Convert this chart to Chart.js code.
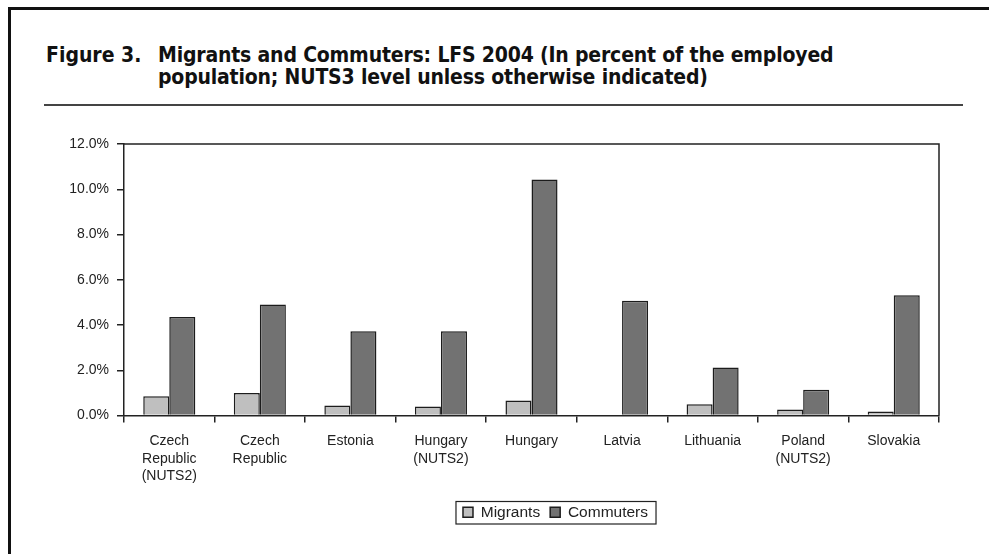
<!DOCTYPE html>
<html>
<head>
<meta charset="utf-8">
<script src="https://cdn.jsdelivr.net/npm/chart.js@4.4.1/dist/chart.umd.min.js"></script>
<style>
    html, body { margin: 0; padding: 0; background: #fff; }
    body { width: 989px; height: 554px; position: relative; overflow: hidden; }
    #frame { position: absolute; left: 8px; top: 7px; width: 990px; height: 560px;
             border-left: 3px solid #111; border-top: 3px solid #111; }
    #title { position: absolute; left: 46px; top: 44px; color: #111;
             font-family: "Liberation Sans Narrow", "DejaVu Sans Condensed", sans-serif;
             font-weight: bold; font-size: 21px; line-height: 22px; white-space: nowrap; }
    #title .num { position: absolute; left: 0; top: 0; }
    #title .txt { position: absolute; left: 112px; top: 0; letter-spacing: -0.18px; }
    #rule { position: absolute; left: 44px; top: 104px; width: 919px; height: 2px; background: #444; }
    #wrap { position: absolute; left: 0; top: 0; width: 989px; height: 554px; }
</style>
</head>
<body>
<div id="frame"></div>
<div id="title">
    <span class="num">Figure 3.</span>
    <span class="txt">Migrants and Commuters: LFS 2004 (In percent of the employed<br>population; NUTS3 level unless otherwise indicated)</span>
</div>
<div id="rule"></div>
<div id="wrap"><canvas id="chart"></canvas></div>

<script>
// ===============================
// DATA
// ===============================
const categories = [
    ["Czech", "Republic", "(NUTS2)"],
    ["Czech", "Republic"],
    ["Estonia"],
    ["Hungary", "(NUTS2)"],
    ["Hungary"],
    ["Latvia"],
    ["Lithuania"],
    ["Poland", "(NUTS2)"],
    ["Slovakia"]
];
const migrants = [0.85, 1.0, 0.44, 0.40, 0.66, 0, 0.50, 0.27, 0.18];
const commuters = [4.35, 4.91, 3.72, 3.72, 10.43, 5.07, 2.12, 1.14, 5.32];
const yTicks = [0, 2, 4, 6, 8, 10, 12];

const AXIS = "#222";
const FONT = "'Liberation Sans', Arial, sans-serif";

// legend sits right of centre in the original, shift its box
const legendShift = {
    id: "legendShift",
    afterLayout(chart) {
        const lg = chart.legend;
        lg.left = 172;
        lg.width = lg.right - lg.left;
    }
};

// box around the plot and around the legend
const framePlugin = {
    id: "framePlugin",
    afterDraw(chart) {
        const ctx = chart.ctx;
        const a = chart.chartArea;
        ctx.save();
        ctx.strokeStyle = AXIS;
        ctx.lineWidth = 1.5;
        ctx.beginPath();
        ctx.moveTo(a.left, a.top);
        ctx.lineTo(a.right, a.top);
        ctx.lineTo(a.right, a.bottom);
        ctx.stroke();

        const boxes = chart.legend.legendHitBoxes;
        if (boxes && boxes.length) {
            const left = Math.min(...boxes.map(b => b.left)) - 7;
            const right = Math.max(...boxes.map(b => b.left + b.width)) + 8;
            const top = Math.min(...boxes.map(b => b.top)) - 3;
            const bottom = Math.max(...boxes.map(b => b.top + b.height)) + 4;
            ctx.lineWidth = 1.2;
            ctx.strokeRect(left, top, right - left, bottom - top);
        }
        ctx.restore();
    }
};

const chart = new Chart(document.getElementById("chart"), {
    type: "bar",
    data: {
        labels: categories,
        datasets: [
            {
                label: "Migrants",
                data: migrants,
                backgroundColor: "#bfbfbf",
                borderColor: "#1c1c1c",
                borderWidth: 1.5,
                categoryPercentage: 0.575,
                barPercentage: 1.0
            },
            {
                label: "Commuters",
                data: commuters,
                backgroundColor: "#727272",
                borderColor: "#1c1c1c",
                borderWidth: 1.5,
                categoryPercentage: 0.575,
                barPercentage: 1.0
            }
        ]
    },
    options: {
        responsive: true,
        maintainAspectRatio: false,
        animation: false,
        layout: { padding: { left: 0, top: 144, right: 50, bottom: 24 } },
        plugins: {
            tooltip: { enabled: false },
            legend: {
                position: "bottom",
                labels: {
                    color: "#222",
                    font: { family: FONT, size: 15.5 },
                    boxWidth: 10,
                    boxHeight: 10,
                    padding: 10
                }
            }
        },
        scales: {
            x: {
                grid: { display: true, drawOnChartArea: false, tickLength: 7, color: AXIS, lineWidth: 1.5 },
                border: { display: true, color: AXIS, width: 1.5 },
                ticks: {
                    color: "#222",
                    font: { family: FONT, size: 14, lineHeight: 1.25 },
                    padding: 10,
                    maxRotation: 0,
                    autoSkip: false
                },
                afterFit(scale) { scale.height = 79; }
            },
            y: {
                min: 0,
                max: 12,
                afterBuildTicks(scale) { scale.ticks = yTicks.map(v => ({ value: v })); },
                grid: { display: true, drawOnChartArea: false, tickLength: 7, color: AXIS, lineWidth: 1.5 },
                border: { display: true, color: AXIS, width: 1.5 },
                ticks: {
                    color: "#222",
                    font: { family: FONT, size: 14 },
                    padding: 8,
                    callback: v => v.toFixed(1) + "%"
                },
                afterFit(scale) { scale.width = 124; }
            }
        }
    },
    plugins: [legendShift, framePlugin]
});
</script>
</body>
</html>
